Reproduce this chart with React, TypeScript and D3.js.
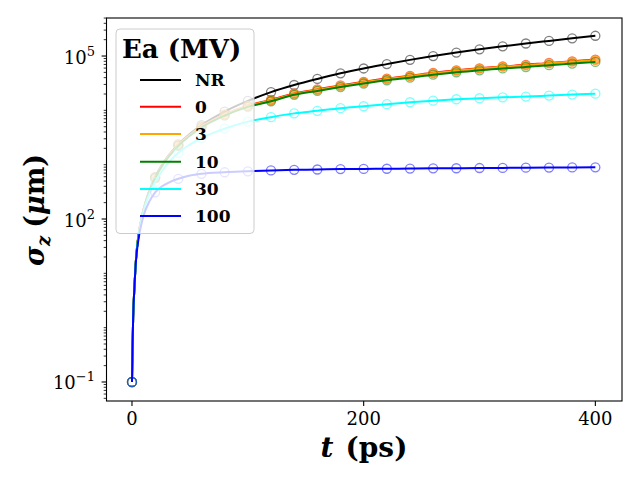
import React from 'react';
import * as d3 from 'd3';

// sample times of the curves (ps) and marker times
const LINE_T = [0, 0.5, 1, 2, 3, 4, 6, 8, 10, 15, 20, 30, 40, 50, 60, 80, 100, 120, 140, 160, 180, 200, 220, 240, 260, 280, 300, 320, 340, 360, 380, 400];
const MARK_T = [0, 20, 40, 60, 80, 100, 120, 140, 160, 180, 200, 220, 240, 260, 280, 300, 320, 340, 360, 380, 400];

// sigma_z (um), one array per Ea
const NR_V = [0.1, 0.45, 1.5, 5, 13, 25, 57, 98, 150, 335, 590, 1330, 2360, 3700, 5350, 9500, 14900, 21700, 29300, 37900, 48000, 59000, 71000, 85000, 100000, 116000, 133000, 151000, 170000, 190000, 212000, 236000];
const E0_V = [0.1, 0.45, 1.5, 5, 13, 25, 57, 98, 150, 330, 580, 1300, 2300, 3520, 5050, 8400, 12200, 15600, 20500, 24300, 28800, 33500, 38500, 43200, 49000, 54500, 59500, 64500, 68800, 74800, 80000, 86000];
const E3_V = [0.1, 0.45, 1.5, 5, 13, 25, 57, 98, 150, 330, 575, 1290, 2280, 3500, 5000, 8300, 12000, 15300, 20100, 23800, 28200, 32900, 37800, 42400, 48200, 53700, 58500, 63600, 67500, 73500, 78600, 84500];
const E10_V = [0.1, 0.45, 1.5, 5, 13, 25, 57, 97, 148, 325, 565, 1260, 2220, 3400, 4850, 8000, 11600, 14700, 19300, 22800, 26800, 31200, 35800, 40000, 45300, 50300, 54600, 59200, 62800, 68000, 72600, 77800];
const E30_V = [0.1, 0.45, 1.5, 5, 13, 25, 55, 92, 140, 290, 480, 1000, 1650, 2350, 3100, 4600, 6200, 7500, 8800, 9800, 10950, 11900, 13000, 14100, 15100, 16000, 16700, 17400, 17900, 18700, 19500, 20300];
const E100_V = [0.1, 0.45, 1.5, 5, 12.5, 23, 48, 78, 115, 210, 310, 450, 550, 630, 680, 725, 755, 785, 805, 815, 830, 835, 842, 848, 856, 860, 868, 872, 880, 884, 890, 893];

const SERIES_NAMES = ['NR', '0', '3', '10', '30', '100'];
const SERIES_VALUES = [NR_V, E0_V, E3_V, E10_V, E30_V, E100_V];
const SERIES_COLORS = ['#000000', '#ff0000', '#ffa500', '#008000', '#00ffff', '#0000ff'];
const MARK_FILL = [0, 0.25, 0.5, 0, 0, 0];

const X_TICKS = [0, 200, 400];
const Y_MAJOR_EXP = [-1, 2, 5];

const W = 640;
const H = 480;
const FONT = '"DejaVu Serif", serif';

export default function App() {
  const x = d3.scaleLinear().domain([-22, 423]).range([106.5, 622]);
  const y = d3.scaleLog().domain([Math.pow(10, -1.35), Math.pow(10, 5.7)]).range([401, 18]);
  const [x0, x1] = x.range();
  const [y0, y1] = y.range();

  const line = d3.line<[number, number]>()
    .x(d => x(d[0]))
    .y(d => y(d[1]))
    .curve(d3.curveMonotoneX);

  // log minor ticks
  const minor: number[] = [];
  for (let k = -2; k <= 5; k++) {
    for (let m = 1; m <= 9; m++) {
      const v = m * Math.pow(10, k);
      if (v < y.domain()[0] || v > y.domain()[1]) continue;
      if (m === 1 && Y_MAJOR_EXP.includes(k)) continue;
      minor.push(v);
    }
  }

  const legendY = [80, 106.7, 134, 161.7, 189, 216];

  return (
    <svg width={W} height={H} style={{ position: 'absolute', left: 0, top: 0, background: '#fff' }}
      fontFamily={FONT}>
      <rect x={0} y={0} width={W} height={H} fill="#fff" />
      <defs>
        <clipPath id="plot">
          <rect x={x0} y={y1} width={x1 - x0} height={y0 - y1} />
        </clipPath>
      </defs>

      <g clipPath="url(#plot)">
        {SERIES_VALUES.map((vals, i) => {
          const pts: [number, number][] = LINE_T.map((t, j) => [t, vals[j]]);
          const marks = pts.filter(p => MARK_T.includes(p[0]));
          const c = SERIES_COLORS[i];
          return (
            <g key={SERIES_NAMES[i]}>
              <path d={line(pts) ?? ''} fill="none" stroke={c} strokeWidth={2} />
              {marks.map(p => (
                <circle key={p[0]} cx={x(p[0])} cy={y(p[1])} r={4.5}
                  fill={MARK_FILL[i] > 0 && p[0] > 0 ? c : 'none'} fillOpacity={MARK_FILL[i]}
                  stroke={c} strokeOpacity={0.5} strokeWidth={1.3} />
              ))}
            </g>
          );
        })}
      </g>

      {/* spines */}
      <rect x={x0} y={y1} width={x1 - x0} height={y0 - y1} fill="none" stroke="#000" strokeWidth={1.1} />

      {/* x ticks */}
      {X_TICKS.map(t => (
        <g key={t}>
          <line x1={x(t)} x2={x(t)} y1={y0} y2={y0 + 4.9} stroke="#000" strokeWidth={1.1} />
          <text x={x(t)} y={425} textAnchor="middle" fontSize={18}>{t}</text>
        </g>
      ))}

      {/* y ticks */}
      {minor.map(v => (
        <line key={v} x1={x0} x2={x0 - 2.8} y1={y(v)} y2={y(v)} stroke="#000" strokeWidth={0.8} />
      ))}
      {Y_MAJOR_EXP.map(k => (
        <g key={k}>
          <line x1={x0} x2={x0 - 4.9} y1={y(Math.pow(10, k))} y2={y(Math.pow(10, k))} stroke="#000" strokeWidth={1.1} />
          <text x={95} y={y(Math.pow(10, k)) + 7.5} textAnchor="end" fontSize={18}>
            10<tspan dy={-8} fontSize={13}>{k < 0 ? `−${-k}` : k}</tspan>
          </text>
        </g>
      ))}

      {/* axis labels */}
      <text x={364} y={457} textAnchor="middle" fontSize={28} fontWeight="bold">
        <tspan fontStyle="italic">t</tspan><tspan dx={12}>(ps)</tspan>
      </text>
      <text transform="translate(44,210) rotate(-90)" textAnchor="middle" fontSize={27} fontWeight="bold">
        <tspan fontStyle="italic">σ</tspan>
        <tspan fontSize={18} fontStyle="italic" dy={6}>z</tspan>
        <tspan dy={-6} dx={8}>(</tspan>
        <tspan fontStyle="italic">μ</tspan>
        <tspan>m)</tspan>
      </text>

      {/* legend */}
      <rect x={116} y={29} width={138} height={204.5} rx={4} fill="#fff" fillOpacity={0.8}
        stroke="#ccc" strokeWidth={1} />
      <text x={122} y={58} fontSize={26} fontWeight="bold">Ea (MV)</text>
      {SERIES_NAMES.map((n, i) => (
        <g key={n}>
          <line x1={140} x2={181} y1={legendY[i]} y2={legendY[i]} stroke={SERIES_COLORS[i]} strokeWidth={2} />
          <text x={195} y={legendY[i] + 6} fontSize={17} fontWeight="bold">{n}</text>
        </g>
      ))}
    </svg>
  );
}
